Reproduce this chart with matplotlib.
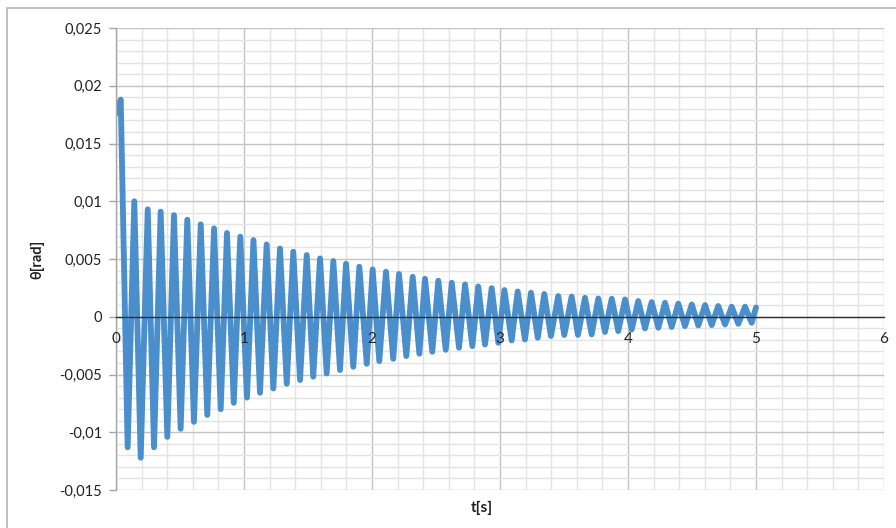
import matplotlib
matplotlib.use("Agg")
import matplotlib.pyplot as plt
from matplotlib.ticker import MultipleLocator, NullFormatter
from matplotlib.patches import Rectangle
from matplotlib.transforms import offset_copy

plt.rcParams['font.family'] = ['Lato', 'DejaVu Sans']

# ---- data ----
t_start, theta_start = 0.0, 0.0176
t_end, theta_end = 5.0, 0.0008

t_max = [0.037, 0.143, 0.248, 0.349, 0.453, 0.557, 0.662, 0.766, 0.867, 0.971,
         1.074, 1.177, 1.281, 1.385, 1.490, 1.594, 1.698, 1.797, 1.901, 2.005,
         2.109, 2.211, 2.318, 2.414, 2.518, 2.623, 2.727, 2.830, 2.935, 3.034,
         3.138, 3.242, 3.346, 3.455, 3.560, 3.664, 3.768, 3.873, 3.977, 4.080,
         4.185, 4.289, 4.393, 4.498, 4.602, 4.705, 4.810, 4.914]
theta_max = [0.0188, 0.0100, 0.0093, 0.0091, 0.0088, 0.0084, 0.0080, 0.00765, 0.00725, 0.00693,
             0.00664, 0.00626, 0.00591, 0.00563, 0.00534, 0.00505, 0.00482, 0.00459, 0.00433, 0.0041,
             0.0039, 0.0037, 0.00346, 0.00329, 0.00312, 0.00294, 0.0028, 0.00262, 0.00248, 0.00231,
             0.00219, 0.00208, 0.00197, 0.00179, 0.00175, 0.00164, 0.00158, 0.00156, 0.0015, 0.00136,
             0.00127, 0.00121, 0.00113, 0.00106, 0.00101, 0.00093, 0.00087, 0.00087]

t_min = [0.091, 0.193, 0.297, 0.401, 0.505, 0.609, 0.713, 0.818, 0.920, 1.023,
         1.125, 1.229, 1.334, 1.438, 1.541, 1.646, 1.750, 1.854, 1.959, 2.057,
         2.166, 2.268, 2.370, 2.471, 2.576, 2.680, 2.784, 2.883, 2.987, 3.091,
         3.195, 3.295, 3.398, 3.502, 3.609, 3.716, 3.820, 3.924, 4.029, 4.133,
         4.237, 4.341, 4.445, 4.549, 4.654, 4.758, 4.862, 4.966]
theta_min = [-0.0113, -0.0122, -0.0113, -0.0104, -0.0097, -0.0091, -0.0085, -0.0080, -0.00745, -0.0070,
             -0.00658, -0.00621, -0.0058, -0.00548, -0.00519, -0.00491, -0.00461, -0.00433, -0.00407, -0.00384,
             -0.00364, -0.0034, -0.0032, -0.00303, -0.00286, -0.00268, -0.00254, -0.0024, -0.00225, -0.00205,
             -0.00197, -0.00182, -0.00167, -0.00158, -0.00157, -0.00153, -0.00132, -0.00124, -0.0011, -0.00101,
             -0.00095, -0.00089, -0.00081, -0.00075, -0.00072, -0.00067, -0.00061, -0.00052]

x_ticks = [0, 1, 2, 3, 4, 5, 6]
x_tick_labels = ['0', '1', '2', '3', '4', '5', '6']
y_ticks = [-0.015, -0.01, -0.005, 0, 0.005, 0.01, 0.015, 0.02, 0.025]
y_tick_labels = ['-0,015', '-0,01', '-0,005', '0', '0,005', '0,01', '0,015', '0,02', '0,025']

# assemble series in time order
t = [t_start]
theta = [theta_start]
for a, b, c, d in zip(t_max, theta_max, t_min, theta_min):
    t += [a, c]
    theta += [b, d]
t.append(t_end)
theta.append(theta_end)

W, H = 896, 528
fig = plt.figure(figsize=(W / 100, H / 100), dpi=100)
ax = fig.add_axes([116 / W, 1 - 490 / H, 768 / W, 462 / H])

ax.plot(t, theta, color='#4a8fcb', lw=4.2, solid_joinstyle='round',
        solid_capstyle='round', zorder=2)

ax.set_xlim(0, 6)
ax.set_ylim(-0.015, 0.025)
ax.set_xticks(x_ticks)
ax.xaxis.set_major_formatter(NullFormatter())
ax.set_yticks(y_ticks)
ax.set_yticklabels(y_tick_labels)
ax.xaxis.set_minor_locator(MultipleLocator(0.2))
ax.yaxis.set_minor_locator(MultipleLocator(0.001))

ax.grid(which='major', color='#c4c4c4', lw=1.0, zorder=0)
ax.grid(which='minor', color='#e4e4e4', lw=1.0, zorder=0)
ax.set_axisbelow(True)

for s in ['top', 'right']:
    ax.spines[s].set_visible(False)
ax.spines['bottom'].set_position(('data', 0))
ax.spines['bottom'].set_color('#303030')
ax.spines['bottom'].set_linewidth(1.0)
ax.spines['bottom'].set_zorder(4)
ax.spines['left'].set_color('#a6a6a6')
ax.spines['left'].set_linewidth(1.0)

ax.tick_params(axis='x', which='both', length=0)
ax.tick_params(axis='y', which='major', length=5, width=1.0, color='#a6a6a6',
               pad=5, labelsize=10.5, labelcolor='#222222')
ax.tick_params(axis='y', which='minor', length=0)

# x tick labels drawn above the trace, just under the zero axis line
lab_tr = offset_copy(ax.transData, fig=fig, x=0, y=-22, units='dots')
for xv, lab in zip(x_ticks, x_tick_labels):
    ax.text(xv, 0, lab, transform=lab_tr, ha='center', va='center',
            fontsize=11, color='#222222', zorder=5, clip_on=False)

fig.text(37 / W, 1 - 259 / H, 'θ[rad]', rotation=90, ha='center', va='center',
         fontsize=10.5, fontweight='bold', color='#222222')
fig.text(482 / W, 1 - 508 / H, 't[s]', ha='center', va='center',
         fontsize=11, fontweight='bold', color='#222222')

# chart area border (left and top visible)
fig.patches.append(Rectangle((7 / W, -0.1), 1.2, 1 - 8 / H + 0.1,
                             transform=fig.transFigure, fill=False,
                             edgecolor='#b5b5b5', lw=1.2))

fig.savefig('out.png', dpi=100)
